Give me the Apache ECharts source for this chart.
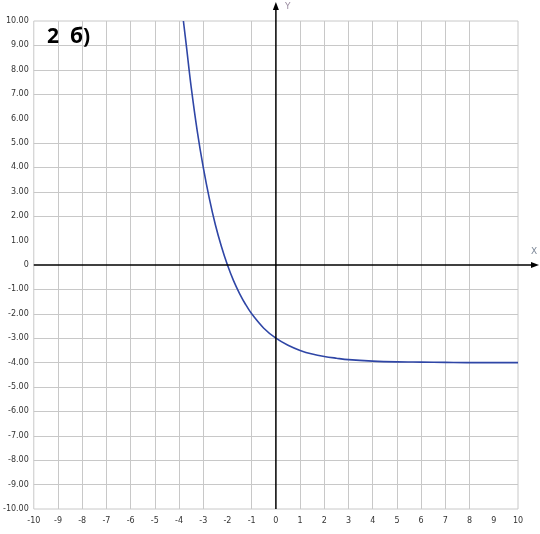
<!DOCTYPE html>
<html><head><meta charset="utf-8">
<script src="https://cdn.jsdelivr.net/npm/echarts@6/dist/echarts.min.js"></script>
<style>html,body{margin:0;padding:0;background:#fff}#c{width:540px;height:534px}</style>
</head><body><div id="c"></div>
<script>
// Curve points
const curveX = [-3.82, -3.7, -3.5, -3.25, -3, -2.75, -2.5, -2.25, -2, -1.75, -1.5, -1.25, -1, -0.5, 0, 0.5, 1, 1.5, 2, 2.5, 3, 4, 5, 6, 7, 8, 9, 10];
const curveY = [10, 9.0, 7.3, 5.5, 4.0, 2.73, 1.65, 0.76, 0, -0.64, -1.17, -1.62, -2.0, -2.59, -3.0, -3.29, -3.5, -3.65, -3.75, -3.82, -3.88, -3.94, -3.97, -3.98, -3.99, -4.0, -4.0, -4.0];
// Grid lines visible in the picture
const xGridValues = [-9, -8, -7, -6, -5, -4, -3, -1, 1, 2, 3, 4, 5, 6, 7, 8];
const yGridValues = [-9, -8, -7, -6, -5, -4, -3, -2, -1, 2, 3, 4, 5, 7, 8, 9];
const axisMin = -10, axisMax = 10, axisStep = 1;
const titleText = '2  б)';
const xName = 'X', yName = 'Y';

const chart = echarts.init(document.getElementById('c'), null, {renderer: 'canvas'});
const labelStyle = {fontFamily: 'DejaVu Sans', fontSize: 8, color: '#333'};
chart.setOption({
  animation: false,
  backgroundColor: '#fff',
  grid: {left: 32, top: 21, right: 22, bottom: 25, show: true, borderColor: '#c8c8c8', borderWidth: 1},
  xAxis: {
    type: 'value', min: axisMin, max: axisMax, interval: axisStep, position: 'bottom',
    axisLine: {show: false, onZero: false}, axisTick: {show: false}, splitLine: {show: false},
    axisLabel: Object.assign({margin: 8}, labelStyle)
  },
  yAxis: {
    type: 'value', min: axisMin, max: axisMax, interval: axisStep, position: 'left',
    axisLine: {show: false, onZero: false}, axisTick: {show: false}, splitLine: {show: false},
    axisLabel: Object.assign({margin: 5, formatter: v => v === 0 ? '0' : v.toFixed(2)}, labelStyle)
  },
  series: [
    {
      type: 'line', data: [[axisMin, axisMin]], showSymbol: false, symbol: 'none',
      lineStyle: {opacity: 0}, silent: true, z: 1,
      markLine: {
        silent: true, symbol: ['none', 'none'], animation: false,
        label: {show: false},
        lineStyle: {color: '#c8c8c8', width: 1, type: 'solid'},
        emphasis: {disabled: true},
        data: xGridValues.map(v => ({xAxis: v})).concat(yGridValues.map(v => ({yAxis: v})))
      }
    },
    {
      type: 'line', z: 5, smooth: 0.35, showSymbol: false, symbol: 'none',
      data: curveX.map((x, i) => [x, curveY[i]]),
      lineStyle: {color: '#2f46a6', width: 1.6}
    }
  ]
});

const o = chart.convertToPixel({gridIndex: 0}, [0, 0]);
const l = chart.convertToPixel({gridIndex: 0}, [axisMin, axisMin]);
const r = chart.convertToPixel({gridIndex: 0}, [axisMax, axisMax]);
const xTip = r[0] + 21, yTip = r[1] - 19;
chart.setOption({
  graphic: [
    {type: 'line', z: 10, shape: {x1: l[0], y1: o[1], x2: xTip - 4, y2: o[1]}, style: {stroke: '#000', lineWidth: 1.5}},
    {type: 'polygon', z: 10, shape: {points: [[xTip, o[1]], [xTip - 8, o[1] - 3], [xTip - 8, o[1] + 3]]}, style: {fill: '#000'}},
    {type: 'line', z: 10, shape: {x1: o[0], y1: l[1], x2: o[0], y2: yTip + 4}, style: {stroke: '#000', lineWidth: 1.5}},
    {type: 'polygon', z: 10, shape: {points: [[o[0], yTip], [o[0] - 3, yTip + 8], [o[0] + 3, yTip + 8]]}, style: {fill: '#000'}},
    {type: 'text', z: 10, style: {text: xName, x: xTip - 8, y: o[1] - 18, fill: '#7d8898', font: '9px "DejaVu Sans"'}},
    {type: 'text', z: 10, style: {text: yName, x: o[0] + 9, y: yTip, fill: '#9a8ca0', font: '9px "DejaVu Sans"'}},
    {type: 'text', z: 10, style: {text: titleText, x: 47, y: 27, fill: '#000', font: 'bold 21px "Open Sans"'}}
  ]
});
</script>
</body></html>
